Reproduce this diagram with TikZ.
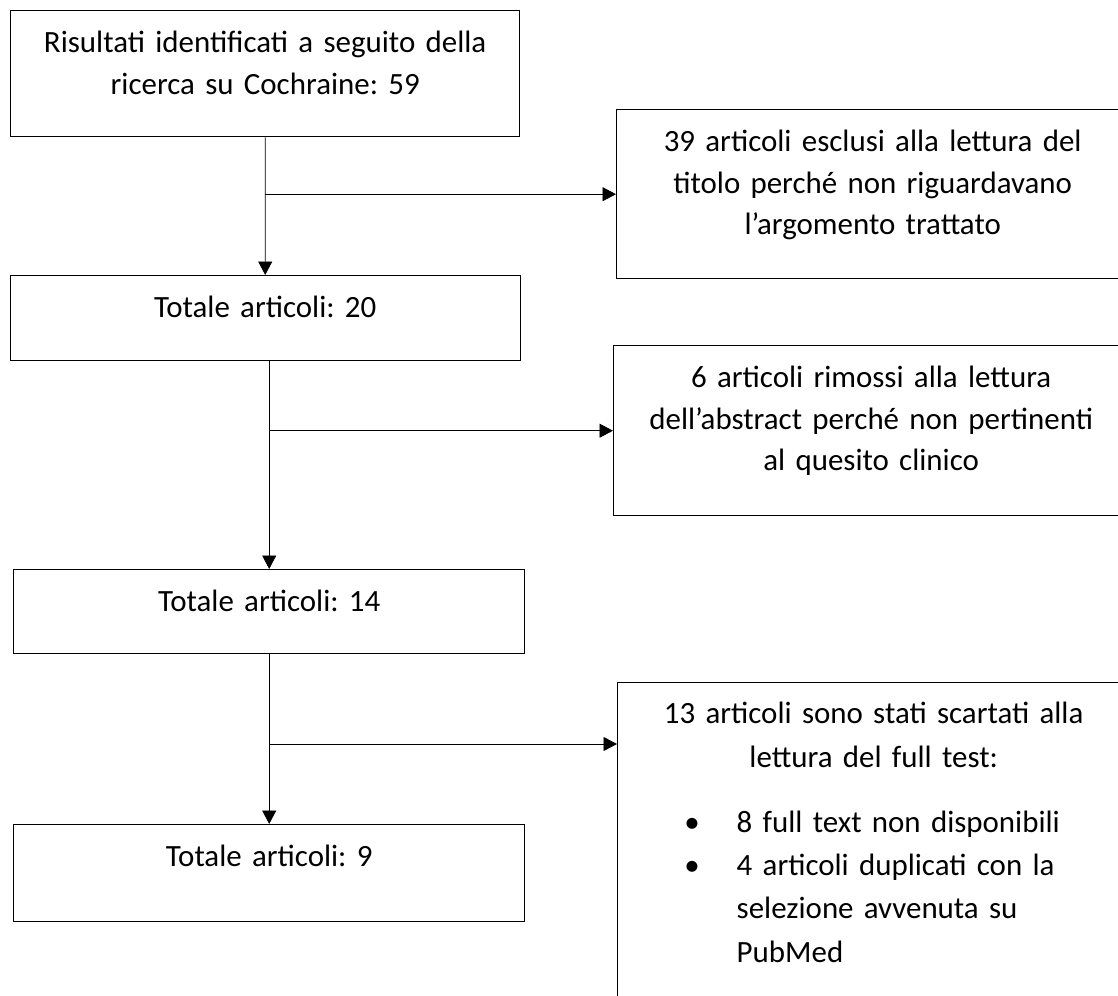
\documentclass[tikz,border=0pt]{standalone}
\usepackage{fontspec}
\setmainfont{Carlito}
\usepackage{enumitem}
\usetikzlibrary{arrows.meta}
\frenchspacing

\begin{document}
\begin{tikzpicture}[>={Triangle[length=2.7mm,width=2.8mm]}]
	\tikzstyle{boxnode}=[anchor=north west, draw, shape=rectangle, inner sep=0pt, line width=0.8pt, align=center, text height=0.84cm, font=\fontsize{17.6}{23.6}\selectfont];
	\tikzstyle{flow}=[line width=0.5pt];

	\useasboundingbox (0,0) rectangle (22.36,-19.92);
	\clip (0,0) rectangle (22.36,-19.92);

	% left column
	\node[boxnode, text width=10.18cm, text depth=1.68cm] (ris) at (0.2,-0.2) {Risultati identificati a seguito della\\ ricerca su Cochraine: 59};
	\node[boxnode, text width=10.2cm, text depth=0.86cm] (tot20) at (0.19,-5.5) {Totale articoli: 20};
	\node[boxnode, text width=10.22cm, text depth=0.84cm] (tot14) at (0.26,-11.38) {Totale articoli: 14};
	\node[boxnode, text width=10.22cm, text depth=1.1cm] (tot9) at (0.26,-16.48) {Totale articoli: 9};

	% right column
	\node[boxnode, text width=10.24cm, text depth=2.54cm] (exc1) at (12.32,-2.18) {39 articoli esclusi alla lettura del\\ titolo perché non riguardavano\\ l’argomento trattato};
	\node[boxnode, text width=10.3cm, text depth=2.56cm] (exc2) at (12.26,-6.9) {6 articoli rimossi alla lettura\\ dell’abstract perché non pertinenti\\ al quesito clinico};
	\node[boxnode, text width=10.24cm, text height=0.82cm, text depth=5.74cm, font=\fontsize{17.6}{24.7}\selectfont] (exc3) at (12.34,-13.64) {%
	13 articoli sono stati scartati alla\\ lettura del full test:\par
	  \begin{itemize}[leftmargin=2.38cm, labelsep=0.74cm, topsep=0.43cm, itemsep=0pt, parsep=0pt, partopsep=0pt, before=\raggedright]
		\item 8 full text non disponibili
		\item 4 articoli duplicati con la\\ selezione avvenuta su\\ PubMed
	  \end{itemize}
	};

	\coordinate (j3) at ([yshift=-1.24cm]exc3.north west);

	\draw[flow,->] (ris.south) -- (tot20.north);
	\draw[flow,->] (ris.south |- exc1.west) -- (exc1.west);
	\draw[flow,->] (tot20.south -| tot14.north) -- (tot14.north);
	\draw[flow,->] (tot14.north |- exc2.west) -- (exc2.west);
	\draw[flow,->] (tot14.south) -- (tot9.north);
	\draw[flow,->] (tot14.south |- j3) -- (j3);

\end{tikzpicture}
\end{document}
